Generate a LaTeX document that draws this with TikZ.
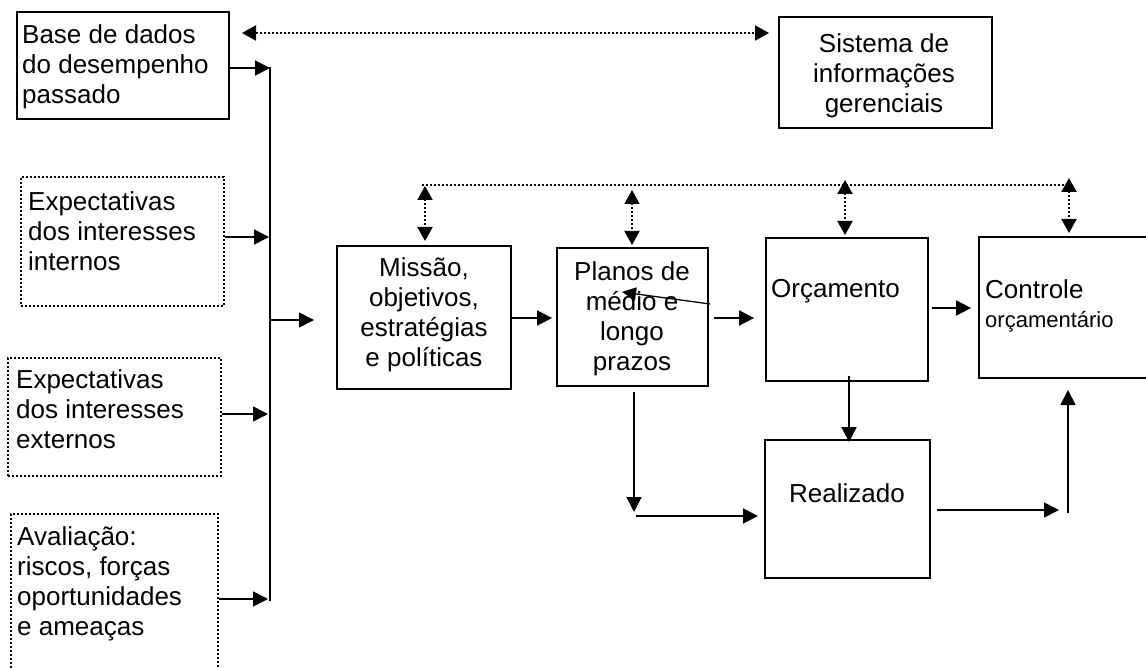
\documentclass[tikz,border=0pt]{standalone}
\usepackage{fontspec}
\setmainfont{Liberation Sans}
\usetikzlibrary{arrows.meta}
\begin{document}
\begin{tikzpicture}[x=1pt,y=-1pt,
  solidbox/.style={draw, line width=1.8pt, inner sep=0pt},
  dotbox/.style={draw, line width=2pt, dash pattern=on 2pt off 2pt, inner sep=0pt},
  lbl/.style={inner sep=0pt, font=\fontsize{26}{30}\selectfont},
  smalllbl/.style={inner sep=0pt, font=\fontsize{22}{29}\selectfont},
  arr/.style={line width=1.7pt, -{Triangle[length=15pt,width=15pt]}},
  darr/.style={line width=2pt, dash pattern=on 2pt off 2pt, {Triangle[length=14pt,width=15pt]}-{Triangle[length=14pt,width=15pt]}},
  dline/.style={line width=2pt, dash pattern=on 2pt off 2pt}]
\useasboundingbox (0,0) rectangle (1146,668);
\fill[white] (0,0) rectangle (1146,668);

% boxes
\node[solidbox, minimum width=212pt, minimum height=107pt] (base) at (123,65.5) {};
\node[solidbox, minimum width=213pt, minimum height=111pt] (sis) at (885.5,72.5) {};
\node[dotbox, minimum width=203pt, minimum height=129pt] (int) at (122.5,241.5) {};
\node[dotbox, minimum width=213pt, minimum height=118pt] (ext) at (114.5,417) {};
\node[dotbox, minimum width=207pt, minimum height=186pt] (aval) at (114.5,607) {};
\node[solidbox, minimum width=174pt, minimum height=143pt] (mis) at (424,317.5) {};
\node[solidbox, minimum width=151pt, minimum height=138pt] (pla) at (632.5,317) {};
\node[solidbox, minimum width=162pt, minimum height=143pt] (orc) at (847,309.5) {};
\node[solidbox, minimum width=181pt, minimum height=141pt] (ctl) at (1069.5,307.5) {};
\node[solidbox, minimum width=165pt, minimum height=138pt] (rea) at (847.5,509) {};

% texts
\node[lbl, anchor=north west, align=left] (tbase) at (22,24) {Base de dados\\do desempenho\\passado};
\node[lbl, anchor=north, align=center] (tsis) at (884,33) {Sistema de\\informações\\gerenciais};
\node[lbl, anchor=north west, align=left] (tint) at (28,191) {Expectativas\\dos interesses\\internos};
\node[lbl, anchor=north west, align=left] (text) at (16,369) {Expectativas\\dos interesses\\externos};
\node[lbl, anchor=north west, align=left] (taval) at (17,526) {Avaliação:\\riscos, forças\\oportunidades\\e ameaças};
\node[lbl, anchor=north, align=center] (tmis) at (424,257) {Missão,\\objetivos,\\estratégias\\e políticas};
\node[lbl, anchor=north, align=center] (tpla) at (632,261) {Planos de\\médio e\\longo\\prazos};
\node[lbl, anchor=north west] (torc) at (771,279) {Orçamento};
\node[lbl, anchor=north west] (tctl) at (985,279) {Controle};
\node[smalllbl, anchor=base west] (tctl2) at (985,327) {orçamentário};
\node[lbl, anchor=north] (trea) at (847,483) {Realizado};

% free-end coordinates
\coordinate (busTop) at (270,67);
\coordinate (busBot) at (270,601);
\coordinate (busMid) at (270,320);
\coordinate (tipBase) at (270,68);
\coordinate (tipInt) at (269,237);
\coordinate (tipExt) at (268,414);
\coordinate (tipAval) at (268,599);
\coordinate (tipMis) at (314,320);
\coordinate (plaDownStart) at (634,392);
\coordinate (plaDownEnd) at (634,512);
\coordinate (horStart) at (636,516);
\coordinate (horEnd) at (758,516);
\coordinate (reaOutStart) at (937,510);
\coordinate (reaOutEnd) at (1059,510);
\coordinate (upStart) at (1068,513);
\coordinate (upEnd) at (1068,390);
\coordinate (strayStart) at (710,304);
\coordinate (strayEnd) at (622,292);
\coordinate (topL) at (242,33);
\coordinate (topR) at (769,33);
\coordinate (dbusL) at (422,185);
\coordinate (dbusR) at (1069,185);

% left inputs and bus
\draw[line width=1.7pt] (busTop) -- (busBot);
\draw[arr] (base.east |- tipBase) -- (tipBase);
\draw[arr] (int.east |- tipInt) -- (tipInt);
\draw[arr] (ext.east |- tipExt) -- (tipExt);
\draw[arr] (aval.east |- tipAval) -- (tipAval);
\draw[arr] (busMid) -- (tipMis);

% main flow
\draw[arr] (mis.east |- 0,318) -- ([xshift=-4pt]pla.west |- 0,318);
\draw[arr] ([xshift=5pt]pla.east |- 0,318) -- ([xshift=-11pt]orc.west |- 0,318);
\draw[arr] ([xshift=3pt]orc.east |- 0,308) -- ([xshift=-7pt]ctl.west |- 0,308);
\draw[arr] ([yshift=6pt]orc.south -| 849,0) -- ([yshift=-3pt]rea.north -| 849,0);
\draw[arr] (plaDownStart) -- (plaDownEnd);
\draw[arr] (horStart) -- (horEnd);
\draw[arr] (reaOutStart) -- (reaOutEnd);
\draw[arr] (upStart) -- (upEnd);
\draw[line width=1.3pt, -{Triangle[length=14pt,width=13pt]}] (strayStart) -- (strayEnd);

% dotted links
\draw[darr] (topL) -- (topR);
\draw[dline] (dbusL) -- (dbusR);
\draw[darr] (425,186) -- (425,241);
\draw[darr] (632,190) -- (632,245);
\draw[darr] (845,180) -- (845,235);
\draw[darr] (1069,178) -- (1069,233);
\end{tikzpicture}
\end{document}
